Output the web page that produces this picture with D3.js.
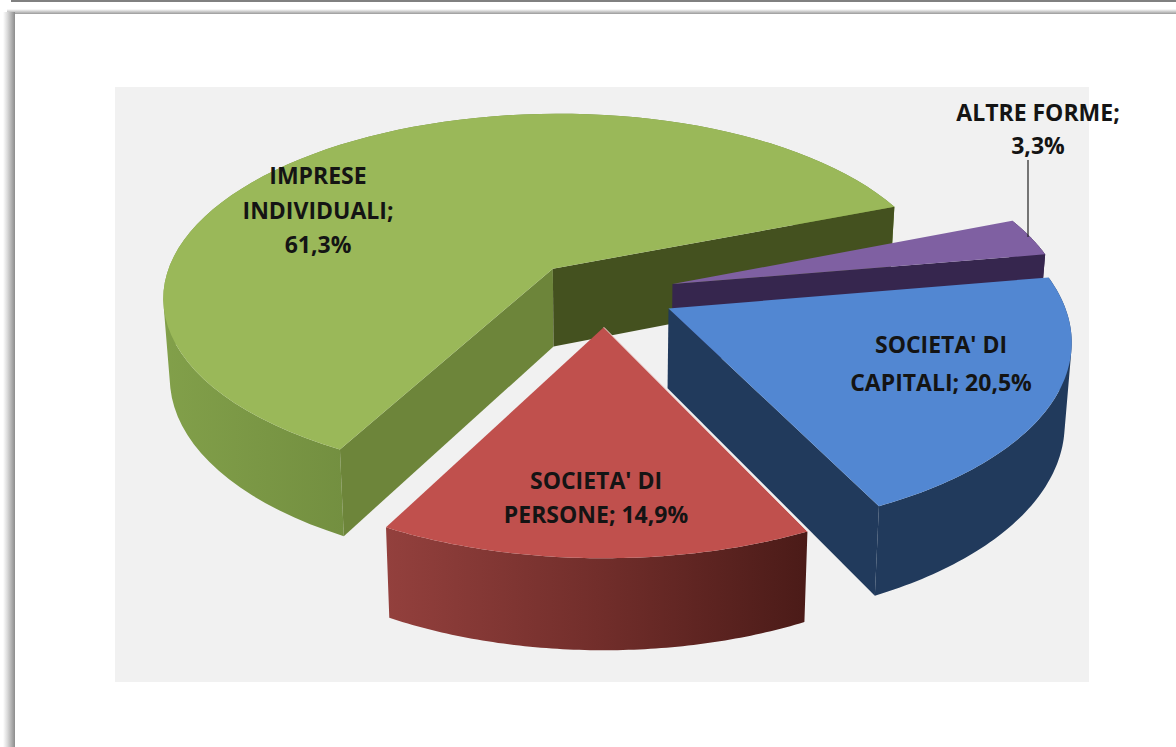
<!DOCTYPE html>
<html>
<head>
<meta charset="utf-8">
<script src="https://cdn.jsdelivr.net/npm/d3@7"></script>
<style>
html,body{margin:0;padding:0;background:#fff;overflow:hidden}
svg{display:block}
text{font-family:"Open Sans",Lato,sans-serif;font-weight:700;fill:#141414;text-anchor:middle}
</style>
</head>
<body>
<svg id="chart" width="1176" height="747"></svg>
<script>
// Forma giuridica delle imprese, in clockwise drawing order
const categories = ["IMPRESE INDIVIDUALI", "ALTRE FORME", "SOCIETA' DI CAPITALI", "SOCIETA' DI PERSONE"];
const shares = [61.3, 3.3, 20.5, 14.9];
const labelLines = [
  ["IMPRESE", "INDIVIDUALI;", "61,3%"],
  ["ALTRE FORME;", "3,3%"],
  ["SOCIETA' DI", "CAPITALI; 20,5%"],
  ["SOCIETA' DI", "PERSONE; 14,9%"]
];
const labelCentres = [[318, 176], [1038, 113], [941, 345], [596, 481]];
const labelSteps = [34.5, 33, 38, 34];
const topColors = ["#9ab859", "#7f60a2", "#5287d2", "#c0504d"];
const wallColors = ["url(#greenSide)", "#36264e", "#213a5c", "url(#redSide)"];
const startFaceColors = ["#6d853a", "#36264e", "#213a5c", "#6a2a27"];
const endFaceColors = ["#44511f", "#36264e", "#213a5c", "#4f1c19"];
// Extra sideways pull of each slice, in pixels
const sidePull = [-6, 0, 0, 0];

const W = 1176, H = 747;
const plot = {x: 115, y: 87, w: 974, h: 595};

// Perspective view of the pie disc: unit radius, looked at from the front
const view = {cx: 605, cy: 293, rx: 392, ry: 185, persp: 0.15, depth: 79, floor: 0.985};
const explode = 0.18;
const rotation = 207.8 * Math.PI / 180;

const svg = d3.select("#chart");
const defs = svg.append("defs");

function hGradient(id, x1, x2, stops) {
  const g = defs.append("linearGradient").attr("id", id)
    .attr("gradientUnits", "userSpaceOnUse")
    .attr("x1", x1).attr("x2", x2).attr("y1", 0).attr("y2", 0);
  stops.forEach(([o, c]) => g.append("stop").attr("offset", o).attr("stop-color", c));
}
hGradient("greenSide", 165, 350, [[0, "#82a04a"], [1, "#738f40"]]);
hGradient("redSide", 386, 806, [[0, "#93403d"], [0.5, "#722e2b"], [1, "#4b1b18"]]);
hGradient("frameLeft", 3, 15, [[0, "#ffffff"], [0.35, "#dcdcdc"], [1, "#8c8c8c"]]);
const fadeTop = defs.append("linearGradient").attr("id", "frameTop")
  .attr("x1", 0).attr("x2", 0).attr("y1", 0).attr("y2", 1);
fadeTop.append("stop").attr("offset", 0).attr("stop-color", "#ffffff");
fadeTop.append("stop").attr("offset", 1).attr("stop-color", "#9a9a9a");

// Window frame around the captured sheet
svg.append("rect").attr("x", 11).attr("y", 0).attr("width", W - 11).attr("height", 2).attr("fill", "#808080");
svg.append("rect").attr("x", 7).attr("y", 9).attr("width", W - 7).attr("height", 5).attr("fill", "url(#frameTop)");
svg.append("rect").attr("x", 3).attr("y", 12).attr("width", 12).attr("height", H - 12).attr("fill", "url(#frameLeft)");

svg.append("rect").attr("x", plot.x).attr("y", plot.y).attr("width", plot.w).attr("height", plot.h).attr("fill", "#f1f1f1");

// Project a disc point (u right, v towards the viewer) at the top or bottom of the solid
function project(u, v, bottom) {
  const w = 1 - view.persp * v;
  const s = bottom ? view.floor : 1;
  return [
    view.cx + view.rx * u / w * s,
    view.cy + view.ry * v / w * s + (bottom ? view.depth / w : 0)
  ];
}

const slices = d3.pie().sort(null).value(d => d)
  .startAngle(rotation).endAngle(rotation + 2 * Math.PI)(shares);

const outline = d3.line().curve(d3.curveLinear);
const closed = pts => outline(pts) + "Z";
const layer = svg.append("g");

// The curved wall as one path of same-wound quads, so the silhouette stays filled
function wallPath(rim, top, bot) {
  return d3.pairs(rim).map(([a, b]) => {
    const quad = [top(a), top(b), bot(b), bot(a)];
    return closed(d3.polygonArea(quad) < 0 ? quad.reverse() : quad);
  }).join("");
}

slices.forEach((s, i) => {
  const mid = (s.startAngle + s.endAngle) / 2;
  const ox = explode * Math.sin(mid), oy = -explode * Math.cos(mid);
  const rim = d3.range(0, 81).map(k => {
    const a = s.startAngle + (s.endAngle - s.startAngle) * k / 80;
    return [ox + Math.sin(a), oy - Math.cos(a)];
  });
  const top = p => project(p[0], p[1], false);
  const bot = p => project(p[0], p[1], true);
  const apex = [ox, oy];
  const first = rim[0], last = rim[rim.length - 1];

  const g = layer.append("g").attr("class", "slice").attr("data-name", categories[i])
    .attr("transform", `translate(${sidePull[i]},0)`);
  // Outer wall, then whichever cut faces turn towards the viewer, then the lid
  g.append("path").attr("d", wallPath(rim, top, bot)).attr("fill", wallColors[i]);
  if (Math.sin(s.startAngle) < 0) {
    g.append("path").attr("d", closed([top(apex), top(first), bot(first), bot(apex)])).attr("fill", startFaceColors[i]);
  }
  if (Math.sin(s.endAngle) > 0) {
    g.append("path").attr("d", closed([top(apex), top(last), bot(last), bot(apex)])).attr("fill", endFaceColors[i]);
  }
  g.append("path").attr("d", closed([top(apex)].concat(rim.map(top)))).attr("fill", topColors[i]);

  if (i === 3) {
    // Pale highlight along the right-hand cut of the front slice
    const a = top(apex), b = top(first);
    g.append("line").attr("x1", a[0]).attr("y1", a[1]).attr("x2", b[0]).attr("y2", b[1])
      .attr("stroke", "#efd9d8").attr("stroke-width", 1);
  }
});

// Leader from the small slice to its label
svg.append("line").attr("x1", 1028).attr("x2", 1028).attr("y1", 160).attr("y2", 237)
  .attr("stroke", "#222").attr("stroke-width", 1.2);

labelLines.forEach((lines, i) => {
  const [x, y] = labelCentres[i];
  lines.forEach((t, k) => {
    svg.append("text").attr("x", x).attr("y", y + k * labelSteps[i])
      .attr("dy", "0.36em").attr("font-size", 23).text(t);
  });
});
</script>
</body>
</html>
